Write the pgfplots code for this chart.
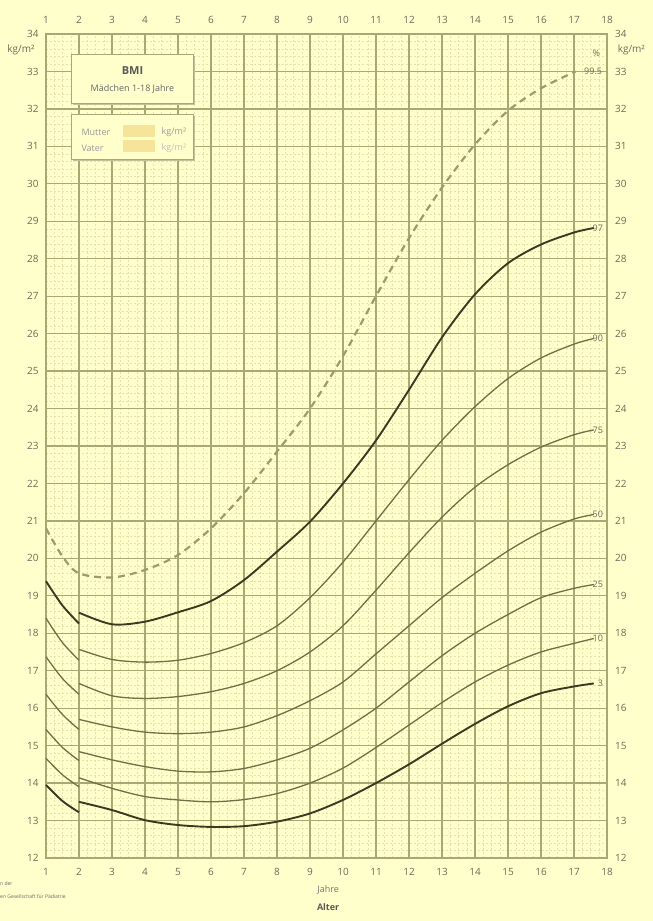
\documentclass[border=0pt]{standalone}
\usepackage{pgfplots}
\pgfplotsset{compat=1.18}
\usepackage{fontspec}
\setmainfont{Open Sans}
\usetikzlibrary{backgrounds}

\definecolor{bg}{HTML}{FFFFCC}
\definecolor{gridmaj}{HTML}{A8A872}
\definecolor{gridmin}{HTML}{E4E4AA}
\definecolor{curvedark}{HTML}{3A3A22}
\definecolor{curvemid}{HTML}{707048}
\definecolor{curvedash}{HTML}{9C9C6A}
\definecolor{labc}{HTML}{6C6C58}
\definecolor{swatch}{HTML}{F6E49A}

\pgfplotsset{
  bmi/.style={
    scale only axis, width=561pt, height=824pt,
    xmin=1, xmax=18, ymin=12, ymax=34,
    xtick={1,...,18}, ytick={12,...,34},
    tick style={draw=none},
    tick label style={font=\fontsize{10}{12}\selectfont, text=labc},
    /pgf/number format/assume math mode=true,
  },
  dark/.style={draw=curvedark, line width=1.9pt, smooth, no marks},
  mid/.style={draw=curvemid, line width=1.3pt, smooth, no marks},
}

\begin{document}
\begin{tikzpicture}[background rectangle/.style={fill=bg}, show background rectangle, inner frame sep=0pt]
\path[use as bounding box] (-46pt,-63pt) rectangle (607pt,858pt);

% feines Raster (unterste Ebene)
\begin{axis}[bmi,
  minor x tick num=3, minor y tick num=4,
  grid=minor,
  minor grid style={draw=gridmin, line width=0.45pt, dash pattern=on 2pt off 2pt},
  axis line style={draw=none},
  xticklabels={}, yticklabels={},
]
\end{axis}

% Hauptachse: Raster, Kurven, Beschriftung unten/links
\begin{axis}[bmi,
  grid=major,
  major grid style={draw=gridmaj, line width=1.3pt},
  axis line style={draw=gridmaj, line width=1.6pt},
  xticklabel style={yshift=-7pt},
  yticklabel style={xshift=-4pt},
  clip=false,
]
% Alter 1-2 Jahre
\addplot[dark] coordinates {(1,19.39)(1.5,18.74)(2,18.26)};
\addplot[mid]  coordinates {(1,18.40)(1.5,17.75)(2,17.28)};
\addplot[mid]  coordinates {(1,17.37)(1.5,16.79)(2,16.37)};
\addplot[mid]  coordinates {(1,16.37)(1.5,15.83)(2,15.43)};
\addplot[mid]  coordinates {(1,15.43)(1.5,14.95)(2,14.60)};
\addplot[mid]  coordinates {(1,14.66)(1.5,14.22)(2,13.90)};
\addplot[dark] coordinates {(1,13.95)(1.5,13.52)(2,13.22)};

% 99.5 (gestrichelt)
\addplot[draw=curvedash, line width=2.2pt, dash pattern=on 7pt off 5pt, smooth, no marks] coordinates {
  (1,20.8)(1.5,20.05)(2,19.6)(3,19.49)(4,19.69)(5,20.09)(6,20.8)(7,21.74)(8,22.85)
  (9,24.0)(10,25.4)(11,27.0)(12,28.55)(13,29.9)(14,31.05)(15,31.95)(16,32.55)(17.05,33.0)};

% 97
\addplot[dark] coordinates {
  (2,18.55)(3,18.24)(4,18.31)(5,18.56)(6,18.86)(7,19.42)(8,20.18)(9,20.98)(10,22.0)
  (11,23.15)(12,24.5)(13,25.9)(14,27.05)(15,27.88)(16,28.38)(17,28.7)(17.6,28.82)};
% 90
\addplot[mid] coordinates {
  (2,17.57)(3,17.30)(4,17.23)(5,17.28)(6,17.46)(7,17.75)(8,18.2)(9,18.95)(10,19.9)
  (11,21.0)(12,22.1)(13,23.15)(14,24.05)(15,24.8)(16,25.35)(17,25.72)(17.6,25.87)};
% 75
\addplot[mid] coordinates {
  (2,16.66)(3,16.33)(4,16.26)(5,16.31)(6,16.44)(7,16.66)(8,17.0)(9,17.5)(10,18.2)
  (11,19.15)(12,20.15)(13,21.1)(14,21.9)(15,22.5)(16,22.97)(17,23.3)(17.6,23.43)};
% 50
\addplot[mid] coordinates {
  (2,15.70)(3,15.50)(4,15.36)(5,15.32)(6,15.36)(7,15.50)(8,15.80)(9,16.20)(10,16.7)
  (11,17.45)(12,18.2)(13,18.95)(14,19.6)(15,20.2)(16,20.7)(17,21.05)(17.6,21.17)};
% 25
\addplot[mid] coordinates {
  (2,14.84)(3,14.62)(4,14.44)(5,14.32)(6,14.30)(7,14.39)(8,14.62)(9,14.93)(10,15.42)
  (11,16.0)(12,16.7)(13,17.4)(14,18.0)(15,18.5)(16,18.95)(17,19.2)(17.6,19.3)};
% 10
\addplot[mid] coordinates {
  (2,14.14)(3,13.86)(4,13.64)(5,13.55)(6,13.50)(7,13.56)(8,13.72)(9,14.0)(10,14.4)
  (11,14.95)(12,15.55)(13,16.15)(14,16.7)(15,17.15)(16,17.5)(17,17.73)(17.6,17.86)};
% 3
\addplot[dark] coordinates {
  (2,13.50)(3,13.28)(4,13.01)(5,12.88)(6,12.83)(7,12.85)(8,12.97)(9,13.19)(10,13.55)
  (11,14.0)(12,14.5)(13,15.05)(14,15.58)(15,16.05)(16,16.4)(17,16.58)(17.6,16.66)};

% Perzentil-Beschriftungen
\begin{scope}[every node/.style={font=\fontsize{9}{10}\selectfont, text=labc, inner sep=0.5pt}]
\node at (axis cs:17.58,33.0) {99.5};
\node at (axis cs:17.72,28.82) {97};
\node at (axis cs:17.72,25.87) {90};
\node at (axis cs:17.72,23.43) {75};
\node at (axis cs:17.72,21.17) {50};
\node at (axis cs:17.72,19.3) {25};
\node at (axis cs:17.72,17.86) {10};
\node at (axis cs:17.8,16.66) {3};
\node at (axis cs:17.68,33.49) {\%};
\end{scope}

% Einheiten
\node[anchor=east, font=\fontsize{10}{12}\selectfont, text=labc] at (axis cs:0.76,33.57) {kg/m²};
\node[anchor=west, font=\fontsize{10}{12}\selectfont, text=labc] at (axis cs:18.22,33.57) {kg/m²};

% Titelkasten
\fill[gridmaj!70] ([xshift=1.5pt,yshift=-1.5pt]axis cs:1.78,33.44) rectangle ([xshift=1.5pt,yshift=-1.5pt]axis cs:5.46,32.15);
\draw[gridmaj, line width=1pt, fill=bg] (axis cs:1.78,33.44) rectangle (axis cs:5.46,32.15);
\node[font=\bfseries\fontsize{11}{13}\selectfont, text=black!65] at (axis cs:3.62,33.01) {BMI};
\node[font=\fontsize{9}{11}\selectfont, text=black!60] at (axis cs:3.62,32.53) {Mädchen 1-18 Jahre};

% Elternkasten
\fill[gridmaj!70] ([xshift=1.5pt,yshift=-1.5pt]axis cs:1.78,31.84) rectangle ([xshift=1.5pt,yshift=-1.5pt]axis cs:5.46,30.64);
\draw[gridmaj, line width=1pt, fill=bg] (axis cs:1.78,31.84) rectangle (axis cs:5.46,30.64);
\fill[swatch] (axis cs:3.33,31.57) rectangle (axis cs:4.3,31.26);
\fill[swatch] (axis cs:3.33,31.17) rectangle (axis cs:4.3,30.86);
\node[anchor=west, font=\fontsize{9}{11}\selectfont, text=black!40] at (axis cs:1.97,31.38) {Mutter};
\node[anchor=west, font=\fontsize{9}{11}\selectfont, text=black!40] at (axis cs:1.97,30.95) {Vater};
\node[anchor=west, font=\fontsize{9}{11}\selectfont, text=black!40] at (axis cs:4.4,31.38) {kg/m²};
\node[anchor=west, font=\fontsize{9}{11}\selectfont, text=black!25] at (axis cs:4.4,30.95) {kg/m²};

% Achsentitel unten
\node[font=\fontsize{9}{11}\selectfont, text=black!55] at (axis cs:9.55,11.14) {Jahre};
\node[font=\bfseries\fontsize{9}{11}\selectfont, text=black!65] at (axis cs:9.55,10.69) {Alter};

% Fussnote (links angeschnitten)
\node[anchor=west, font=\fontsize{5}{6}\selectfont, text=black!60, inner sep=0pt] at (axis cs:-0.394,11.32) {n der};
\node[anchor=west, font=\fontsize{5}{6}\selectfont, text=black!60, inner sep=0pt] at (axis cs:-0.394,10.97) {en Gesellschaft für Pädiatrie};
\end{axis}

% zweite Achse: Beschriftung oben und rechts
\begin{axis}[bmi,
  axis line style={draw=none},
  xticklabel pos=right, yticklabel pos=right,
  xticklabel style={yshift=7pt},
  yticklabel style={xshift=4.5pt},
]
\end{axis}
\end{tikzpicture}
\end{document}
